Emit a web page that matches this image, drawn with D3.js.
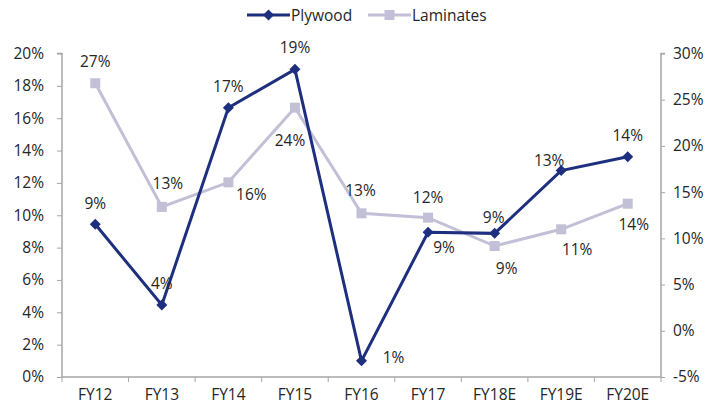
<!DOCTYPE html>
<html><head><meta charset="utf-8">
<script src="https://cdn.jsdelivr.net/npm/d3@7"></script>
<style>
body{margin:0;background:#fff;}
text{font-family:"Open Sans",sans-serif;fill:#262626;}
</style></head>
<body><svg id="c" width="725" height="411"></svg>
<script>
const categories = ["FY12","FY13","FY14","FY15","FY16","FY17","FY18E","FY19E","FY20E"];
const plywood   = [9.44, 4.45, 16.65, 19.02, 1.0, 8.95, 8.88, 12.76, 13.62];
const laminates = [26.78, 13.4, 16.06, 24.14, 12.71, 12.24, 9.17, 10.98, 13.75];
const leftTicks  = [0,2,4,6,8,10,12,14,16,18,20];
const rightTicks = [-5,0,5,10,15,20,25,30];
// label offsets (dx, dy) relative to the point
const plyLabelOff = [[0,-21],[0,-22],[0,-22],[0,-22],[32,-4],[16,15],[-1,-16],[-12,-11],[0,-22]];
const lamLabelOff = [[0,-22],[6,-24],[23,12],[-5,32],[-1,-23],[0,-21],[12,22],[16,20],[6,20]];

const svg = d3.select("#c");
const m = {l:62, r:661, t:53.5, b:377};
const x = d3.scaleBand().domain(categories).range([m.l, m.r]);
const yL = d3.scaleLinear().domain([0,20]).range([m.b, m.t]);
const yR = d3.scaleLinear().domain([-5,30]).range([m.b, m.t]);
const axisCol = "#a6a6a6";
const fs = "15.5px";

const gL = svg.append("g").attr("transform",`translate(${m.l},0)`)
  .call(d3.axisLeft(yL).tickValues(leftTicks).tickFormat(d=>d+"%").tickSize(5).tickPadding(13));
const gR = svg.append("g").attr("transform",`translate(${m.r},0)`)
  .call(d3.axisRight(yR).tickValues(rightTicks).tickFormat(d=>d+"%").tickSize(4).tickPadding(8));
const gB = svg.append("g").attr("transform",`translate(0,${m.b})`)
  .call(d3.axisBottom(x).tickSize(0).tickPadding(12));
const bounds = categories.map(c=>x(c)).concat([m.r]);
gB.selectAll("line.bt").data(bounds).enter().append("line").attr("class","bt")
  .attr("x1",d=>d).attr("x2",d=>d).attr("y1",0).attr("y2",5).attr("stroke",axisCol);

[gL,gR,gB].forEach(g=>{
  g.selectAll(".domain").attr("stroke",axisCol).attr("stroke-width",1.5);
  g.selectAll(".tick line").attr("stroke",axisCol);
  g.selectAll(".tick text").style("font-size",fs).style("font-family","'Open Sans',sans-serif").attr("fill","#262626");
});
gL.select(".domain").attr("d",`M-5,${m.t}H0V${m.b}`);
gR.select(".domain").attr("d",`M4,${m.t}H0V${m.b}`);
gB.select(".domain").attr("d",`M${m.l},0H${m.r}`);

const cx = c => x(c) + x.bandwidth()/2;
const plyCol = "#1f2f7f", lamCol = "#c1c0d7";
const diamondPath = "M0,-5.5L5.5,0L0,5.5L-5.5,0Z";

svg.append("path").datum(laminates)
  .attr("d", d3.line().x((d,i)=>cx(categories[i])).y(d=>yR(d)))
  .attr("fill","none").attr("stroke",lamCol).attr("stroke-width",3);
svg.selectAll("rect.lm").data(laminates).enter().append("rect").attr("class","lm")
  .attr("x",(d,i)=>cx(categories[i])-5).attr("y",d=>yR(d)-5)
  .attr("width",10).attr("height",10).attr("fill",lamCol);

svg.append("path").datum(plywood)
  .attr("d", d3.line().x((d,i)=>cx(categories[i])).y(d=>yL(d)))
  .attr("fill","none").attr("stroke",plyCol).attr("stroke-width",3);
svg.selectAll("path.pm").data(plywood).enter().append("path").attr("class","pm")
  .attr("d", diamondPath)
  .attr("transform",(d,i)=>`translate(${cx(categories[i])},${yL(d)})`).attr("fill",plyCol);

svg.selectAll("text.pl").data(plywood).enter().append("text").attr("class","pl")
  .attr("x",(d,i)=>cx(categories[i])+plyLabelOff[i][0])
  .attr("y",(d,i)=>yL(d)+plyLabelOff[i][1])
  .attr("text-anchor","middle").attr("dominant-baseline","central")
  .style("font-size",fs).text(d=>Math.round(d)+"%");
svg.selectAll("text.ll").data(laminates).enter().append("text").attr("class","ll")
  .attr("x",(d,i)=>cx(categories[i])+lamLabelOff[i][0])
  .attr("y",(d,i)=>yR(d)+lamLabelOff[i][1])
  .attr("text-anchor","middle").attr("dominant-baseline","central")
  .style("font-size",fs).text(d=>Math.round(d)+"%");

const leg = svg.append("g");
const series = [{name:"Plywood",col:plyCol,x0:247,sym:"d"},{name:"Laminates",col:lamCol,x0:368,sym:"s"}];
series.forEach(s=>{
  const g = leg.append("g").attr("transform",`translate(${s.x0},15)`);
  g.append("line").attr("x1",0).attr("x2",43).attr("stroke",s.col).attr("stroke-width",3);
  if(s.sym==="d") g.append("path").attr("d",diamondPath).attr("transform","translate(21.5,0)").attr("fill",s.col);
  else g.append("rect").attr("x",16.5).attr("y",-5).attr("width",10).attr("height",10).attr("fill",s.col);
  g.append("text").attr("x",44).attr("y",0).attr("dominant-baseline","central").style("font-size",fs).text(s.name);
});
</script></body></html>
